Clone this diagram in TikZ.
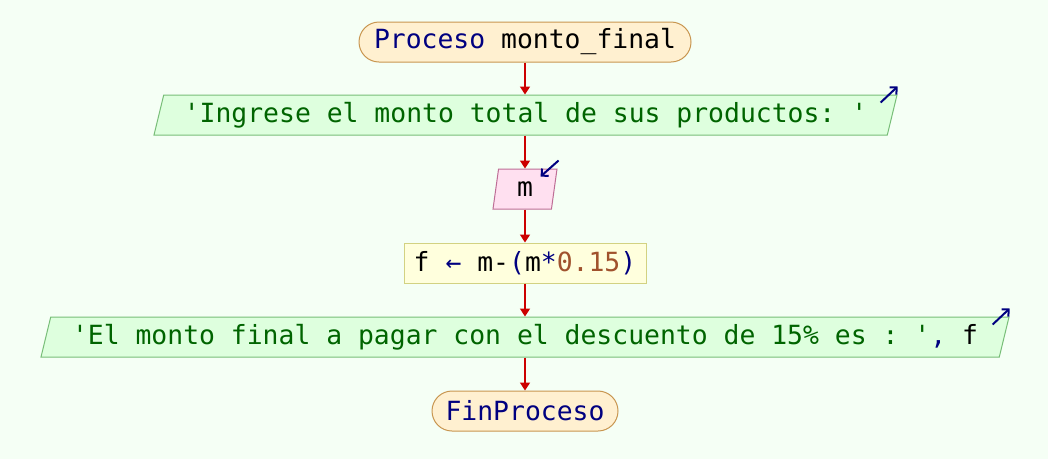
\documentclass[tikz,border=0pt]{standalone}
\usepackage{fontspec}
\setmonofont{DejaVu Sans Mono}
\usetikzlibrary{shapes.geometric,arrows.meta}
\definecolor{bg}{RGB}{245,255,245}
\definecolor{termfill}{RGB}{255,240,208}
\definecolor{termdraw}{RGB}{200,150,80}
\definecolor{iofill}{RGB}{222,255,222}
\definecolor{iodraw}{RGB}{120,190,120}
\definecolor{infill}{RGB}{255,224,240}
\definecolor{indraw}{RGB}{190,110,150}
\definecolor{asgfill}{RGB}{255,255,221}
\definecolor{asgdraw}{RGB}{210,210,130}
\definecolor{kw}{RGB}{0,0,128}
\definecolor{str}{RGB}{0,100,0}
\definecolor{num}{RGB}{160,82,45}
\definecolor{flow}{RGB}{204,0,0}
\begin{document}
\begin{tikzpicture}[x=1pt,y=-1pt,
  every node/.style={font=\ttfamily\fontsize{26.4}{30}\selectfont, inner sep=0pt},
  term/.style={rounded corners=20pt, fill=termfill, draw=termdraw, line width=1pt, minimum height=40pt},
  para/.style={trapezium, trapezium left angle=69.4, trapezium right angle=110.6, trapezium stretches body, minimum height=40pt, line width=1pt},
  outp/.style={para, fill=iofill, draw=iodraw},
  inp/.style={para, fill=infill, draw=indraw},
  asg/.style={rectangle, fill=asgfill, draw=asgdraw, line width=1pt, minimum height=40pt},
  flowarrow/.style={draw=flow, line width=1.6pt, -{Triangle[length=8pt,width=10pt]}},
  ioicon/.style={draw=kw, line width=2pt, -{Straight Barb[length=5pt,width=10pt]}}
]
\fill[bg] (0,0) rectangle (1048,459);
\useasboundingbox (0,0) rectangle (1048,459);

\node[term, minimum width=332pt] (start) at (525,42) {\textcolor{kw}{Proceso} monto\_final};
\node[outp, minimum width=743pt] (out1) at (525.5,115) {\textcolor{str}{'Ingrese el monto total de sus productos: '}};
\node[inp, minimum width=64pt] (in1) at (525,189) {m};
\node[asg, minimum width=242pt] (asg1) at (525,263) {f \textcolor{kw}{\char"2190} m-\textcolor{kw}{(}m\textcolor{kw}{*}\textcolor{num}{0.15}\textcolor{kw}{)}};
\node[outp, minimum width=968pt] (out2) at (525,337) {\textcolor{str}{'El monto final a pagar con el descuento de 15\% es : '}\textcolor{kw}{,} f};
\node[term, minimum width=186pt] (end) at (525,411) {\textcolor{kw}{FinProceso}};

\draw[flowarrow] (start.south) -- (start.south |- out1.north);
\draw[flowarrow] (start.south |- out1.south) -- (start.south |- in1.north);
\draw[flowarrow] (start.south |- in1.south) -- (asg1.north);
\draw[flowarrow] (asg1.south) -- (asg1.south |- out2.north);
\draw[flowarrow] (asg1.south |- out2.south) -- (end.north);

\coordinate (o1) at ([xshift=-17pt,yshift=-8pt]out1.top right corner);
\coordinate (o1t) at ([yshift=8pt]out1.top right corner);
\draw[ioicon] (o1) -- (o1t);
\coordinate (i1) at ([xshift=1pt,yshift=8pt]in1.top right corner);
\coordinate (i1t) at ([xshift=-17pt,yshift=-8pt]in1.top right corner);
\draw[ioicon] (i1) -- (i1t);
\coordinate (o2) at ([xshift=-17pt,yshift=-8pt]out2.top right corner);
\coordinate (o2t) at ([yshift=8pt]out2.top right corner);
\draw[ioicon] (o2) -- (o2t);
\end{tikzpicture}
\end{document}
